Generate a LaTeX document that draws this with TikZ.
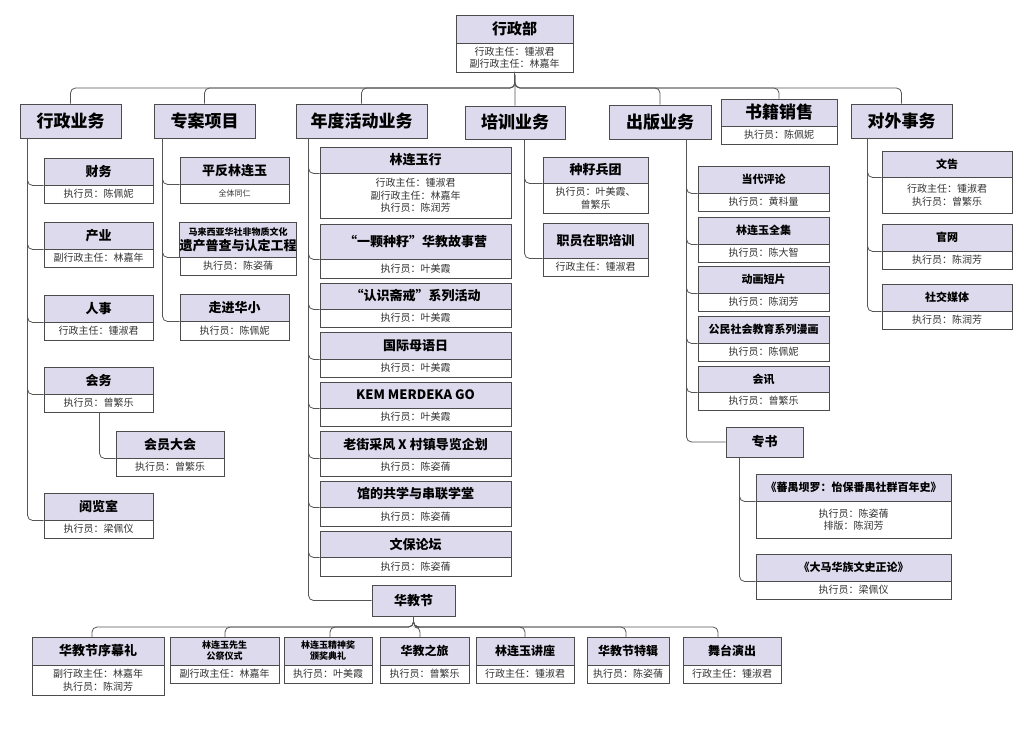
\documentclass[tikz,border=0pt]{standalone}
\usepackage{fontspec}
\setmainfont{Noto Sans CJK SC}
\definecolor{hd}{HTML}{DCDAEC}
\definecolor{ln}{HTML}{555555}
\tikzset{
 hdr/.style={draw=ln!90!black,line width=0.9pt,fill=hd,inner sep=0pt,align=center,font=\bfseries,text=black},
 bdy/.style={draw=ln!90!black,line width=0.9pt,fill=white,inner sep=0pt,align=center,text=black!80,font=\fontsize{10}{12.5}\selectfont},
 conn/.style={draw=ln,line width=0.8pt,rounded corners=5pt}
}
% name x1 x2 y1 ym y2 title body ; optional font size for title via \tfs
\newcommand\tfs{\fontsize{13}{15}\selectfont}
\newcommand\ob[8]{%
 \node[bdy,minimum width={(#3-#2)*1pt},minimum height={(#6-#5)*1pt}] (#1b) at ({(#2+#3)/2},{(#5+#6)/2}) {#8};
 \node[hdr,minimum width={(#3-#2)*1pt},minimum height={(#5-#4)*1pt},font=\bfseries\tfs] (#1) at ({(#2+#3)/2},{(#4+#5)/2}) {#7};}
\newcommand\hb[6]{%
 \node[hdr,minimum width={(#3-#2)*1pt},minimum height={(#5-#4)*1pt},font=\bfseries#6] (#1) at ({(#2+#3)/2},{(#4+#5)/2}) {};
 \node[font=\bfseries#6,inner sep=0pt] at (#1) {\strut#6 \phantom{}};}
\begin{document}
\begin{tikzpicture}[x=1pt,y=-1pt]
\useasboundingbox[fill=white] (0,0) rectangle (1030,728);
\def\big{\fontsize{17}{19}\selectfont}
% top
\ob{T}{456}{573}{15}{43}{72}{\fontsize{15}{17}\selectfont 行政部}{行政主任：锺淑君\\副行政主任：林嘉年}
% categories
\node[hdr,minimum width=101pt,minimum height=34pt,font=\bfseries\big] (A) at (70.5,121) {行政业务};
\node[hdr,minimum width=101pt,minimum height=34pt,font=\bfseries\big] (B) at (204.5,121) {专案项目};
\node[hdr,minimum width=131pt,minimum height=34pt,font=\bfseries\big] (C) at (361.5,121) {年度活动业务};
\node[hdr,minimum width=100pt,minimum height=33pt,font=\bfseries\big] (D) at (515,122.5) {培训业务};
\node[hdr,minimum width=102pt,minimum height=34pt,font=\bfseries\big] (E) at (660,122) {出版业务};
\ob{G}{721}{837}{99}{126}{144}{\big 书籍销售}{执行员：陈佩妮}
\node[hdr,minimum width=101pt,minimum height=34pt,font=\bfseries\big] (F) at (901.5,121) {对外事务};
\foreach \n in {A,B,C,D,E,G,F}{\draw[conn] (T.south |- 0,72) -- (515,88) -| (\n.north);}
% 行政业务
\ob{A1}{44}{153}{158}{185}{203}{财务}{执行员：陈佩妮}
\ob{A2}{44}{153}{222}{249}{267}{产业}{副行政主任：林嘉年}
\ob{A3}{44}{153}{295}{322}{340}{人事}{行政主任：锺淑君}
\ob{A4}{44}{153}{367}{394}{412}{会务}{执行员：曾繁乐}
\ob{A5}{116}{224}{431}{458}{476}{会员大会}{执行员：曾繁乐}
\ob{A6}{44}{153}{493}{520}{538}{阅览室}{执行员：梁佩仪}
\foreach \n in {A1,A2,A3,A4,A6}{\draw[conn] ([xshift=8pt]A.south west) |- (\n.south west);}
\draw[conn] ([xshift=56pt]A4b.south west) |- (A5.south west);
% 专案项目
\ob{B1}{180}{289}{157}{184}{203}{平反林连玉}{\fontsize{8}{10}\selectfont 全体同仁}
\ob{B2}{180}{296}{222}{257}{275}{\fontsize{9}{12}\selectfont 马来西亚华社非物质文化\\遗产普查与认定工程}{执行员：陈姿蒨}
\ob{B3}{180}{289}{294}{321}{340}{走进华小}{执行员：陈佩妮}
\foreach \n in {B1,B2,B3}{\draw[conn] ([xshift=9pt]B.south west) |- (\n.south west);}
% 年度活动
\ob{C1}{320}{511}{147}{173}{218}{林连玉行}{行政主任：锺淑君\\副行政主任：林嘉年\\执行员：陈润芳}
\ob{C2}{320}{511}{224}{259}{278}{“一颗种籽”华教故事营}{执行员：叶美霞}
\ob{C3}{320}{511}{283}{309}{327}{“认识斋戒”系列活动}{执行员：叶美霞}
\ob{C4}{320}{511}{332}{359}{377}{国际母语日}{执行员：叶美霞}
\ob{C5}{320}{511}{382}{408}{426}{KEM MERDEKA GO}{执行员：叶美霞}
\ob{C6}{320}{511}{431}{458}{476}{老街采风 X 村镇导览企划}{执行员：陈姿蒨}
\ob{C7}{320}{511}{481}{507}{526}{馆的共学与串联学堂}{执行员：陈姿蒨}
\ob{C8}{320}{511}{531}{557}{576}{文保论坛}{执行员：陈姿蒨}
\foreach \n in {C1,C2,C3,C4,C5,C6,C7,C8}{\draw[conn] ([xshift=13pt]C.south west) |- (\n.south west);}
\node[hdr,minimum width=83pt,minimum height=31pt,font=\bfseries\fontsize{13}{15}\selectfont] (H) at (413.5,600.5) {华教节};
\draw[conn] ([xshift=13pt]C.south west) |- (H.west);
% 华教节 children
\ob{H1}{32}{164}{637}{665}{695}{华教节序幕礼}{副行政主任：林嘉年\\执行员：陈润芳}
\renewcommand\tfs{\fontsize{9}{11}\selectfont}
\ob{H2}{170}{279}{637}{665}{683}{林连玉先生\\公祭仪式}{副行政主任：林嘉年}
\ob{H3}{284}{372}{637}{665}{683}{林连玉精神奖\\颁奖典礼}{执行员：叶美霞}
\renewcommand\tfs{\fontsize{12}{14}\selectfont}
\ob{H4}{380}{469}{637}{665}{683}{华教之旅}{执行员：曾繁乐}
\ob{H5}{476}{574}{637}{665}{683}{林连玉讲座}{行政主任：锺淑君}
\ob{H6}{587}{669}{637}{665}{683}{华教节特辑}{执行员：陈姿蒨}
\ob{H7}{683}{781}{637}{665}{683}{舞台演出}{行政主任：锺淑君}
\foreach \n/\xx in {H1/92,H2/225,H3/330,H4/420,H5/525,H6/626,H7/718}{\draw[conn] (H.south) -- (413.5,627) -| (\xx,637);}
\renewcommand\tfs{\fontsize{13}{15}\selectfont}
% 培训
\ob{D1}{543}{648}{157}{183}{213}{种籽兵团}{执行员：叶美霞、\\曾繁乐}
\ob{D2}{543}{648}{223}{258}{276}{职员在职培训}{行政主任：锺淑君}
\foreach \n in {D1,D2}{\draw[conn] ([xshift=60pt]D.south west) |- (\n.south west);}
% 出版
\renewcommand\tfs{\fontsize{11}{13}\selectfont}
\ob{E1}{698}{829}{166}{193}{211}{当代评论}{执行员：黄科量}
\ob{E2}{698}{829}{217}{244}{262}{林连玉全集}{执行员：陈大智}
\ob{E3}{698}{829}{266}{293}{311}{动画短片}{执行员：陈润芳}
\ob{E4}{698}{829}{316}{343}{361}{公民社会教育系列漫画}{执行员：陈佩妮}
\ob{E5}{698}{829}{366}{392}{410}{会讯}{执行员：曾繁乐}
\node[hdr,minimum width=77pt,minimum height=30pt,font=\bfseries\fontsize{13}{15}\selectfont] (S) at (764.5,442) {专书};
\foreach \n in {E1,E2,E3,E4,E5}{\draw[conn] ([xshift=78pt]E.south west) |- (\n.south west);}
\draw[conn] ([xshift=78pt]E.south west) |- (S.west);
\ob{S1}{756}{951}{474}{501}{538}{《蕃禺坝罗：怡保番禺社群百年史》}{执行员：陈姿蒨\\排版：陈润芳}
\ob{S2}{756}{951}{554}{581}{599}{《大马华族文史正论》}{执行员：梁佩仪}
\foreach \n in {S1,S2}{\draw[conn] ([xshift=14pt]S.south west) |- (\n.south west);}
% 对外
\ob{F1}{882}{1012}{151}{177}{213}{文告}{行政主任：锺淑君\\执行员：曾繁乐}
\ob{F2}{882}{1012}{224}{251}{269}{官网}{执行员：陈润芳}
\ob{F3}{882}{1012}{284}{311}{329}{社交媒体}{执行员：陈润芳}
\foreach \n in {F1,F2,F3}{\draw[conn] ([xshift=17pt]F.south west) |- (\n.south west);}
\end{tikzpicture}
\end{document}
